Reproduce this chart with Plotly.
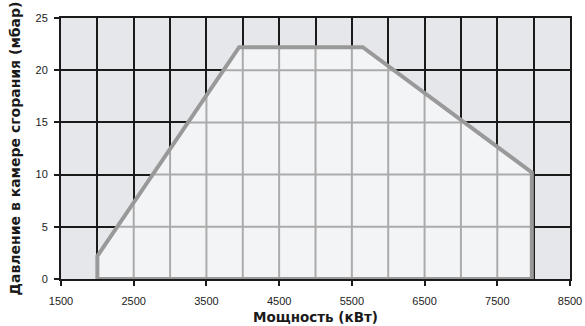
import numpy as np
import plotly.graph_objects as go

# Operating envelope (power kW, chamber pressure mbar)
power = [2000, 2000, 3950, 5650, 7975, 7975, 2000]
pressure = [0, 2.2, 22.2, 22.2, 10.2, 0, 0]

x_ticks = [1500, 2500, 3500, 4500, 5500, 6500, 7500, 8500]
y_ticks = [0, 5, 10, 15, 20, 25]
x_title = "Мощность (кВт)"
y_title = "Давление в камере сгорания (мбар)"

# top boundary of the envelope (for inner light grid clipping)
top_x = power[1:5]
top_y = pressure[1:5]

def upper(x):
    return float(np.interp(x, top_x, top_y))

def left_x(y):
    return float(np.interp(y, [pressure[1], pressure[2]], [power[1], power[2]]))

def right_x(y):
    return float(np.interp(y, [pressure[4], pressure[3]], [power[4], power[3]]))

gx, gy = [], []
for xv in np.arange(2500, 8000, 500):
    if power[0] < xv < power[4]:
        gx += [xv, xv, None]
        gy += [0, upper(xv), None]
for yv in [5, 10, 15, 20]:
    gx += [left_x(yv), right_x(yv), None]
    gy += [yv, yv, None]

fig = go.Figure()
fig.add_trace(go.Scatter(x=power, y=pressure, mode="lines", fill="toself",
                         fillcolor="#f3f4f6", line=dict(width=0),
                         hoverinfo="skip", showlegend=False))
fig.add_trace(go.Scatter(x=gx, y=gy, mode="lines",
                         line=dict(color="#ababab", width=2),
                         hoverinfo="skip", showlegend=False))
fig.add_trace(go.Scatter(x=power, y=pressure, mode="lines",
                         line=dict(color="#999999", width=4),
                         showlegend=False))

fig.update_layout(
    width=585, height=326,
    margin=dict(l=61, r=15, t=18, b=47),
    paper_bgcolor="white", plot_bgcolor="#e5e7ea",
    font=dict(family="Liberation Sans, Arial", size=11, color="#222"),
)
fig.update_xaxes(
    range=[1500, 8500], tickvals=x_ticks, ticks="outside", ticklen=5,
    tickwidth=2, tickcolor="#1a1a1a", automargin=False, ticklabelstandoff=6,
    showgrid=True, gridcolor="#1a1a1a", gridwidth=2,
    minor=dict(dtick=500, tick0=1500, showgrid=True, gridcolor="#1a1a1a", gridwidth=2),
    showline=True, linecolor="#1a1a1a", linewidth=2, mirror=True,
    zeroline=False, layer="below traces",
    title=dict(text="<b>" + x_title + "</b>", font=dict(family="DejaVu Sans", size=13.5, color="#1a1a1a"), standoff=6),
)
fig.update_yaxes(
    range=[0, 25], tickvals=y_ticks, ticks="outside", ticklen=5,
    tickwidth=2, tickcolor="#1a1a1a", automargin=False, ticklabelstandoff=4,
    showgrid=True, gridcolor="#1a1a1a", gridwidth=2,
    showline=True, linecolor="#1a1a1a", linewidth=2, mirror=True,
    zeroline=False, layer="below traces",
    title=dict(text="<b>" + y_title + "</b>", font=dict(family="DejaVu Sans", size=14, color="#1a1a1a"), standoff=12),
)

# remove the default page margin so the figure sits at the window's corner
fig.write_html("out.html", config={"displayModeBar": False},
               post_script="document.body.style.margin='0';document.body.style.overflow='hidden';")
